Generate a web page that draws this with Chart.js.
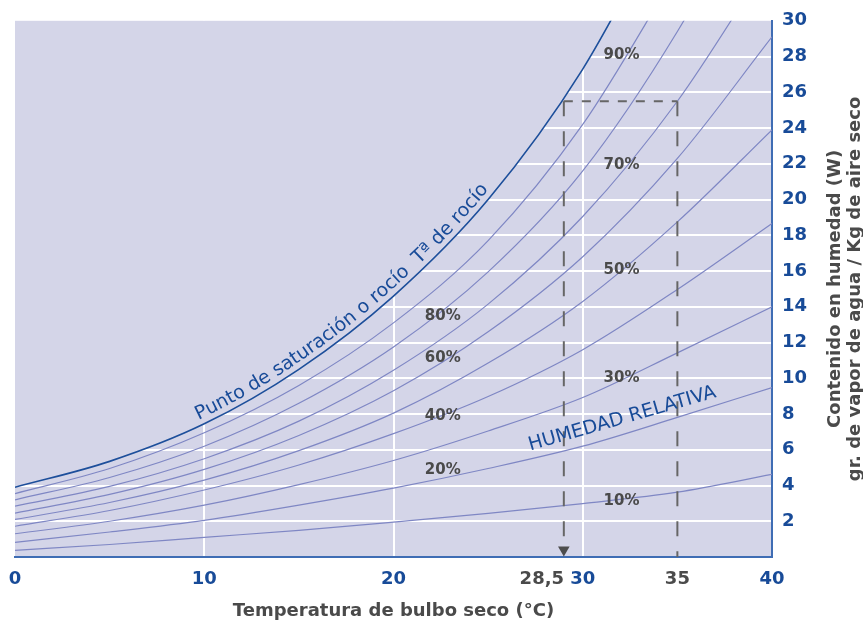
<!DOCTYPE html>
<html lang="es">
<head>
<meta charset="utf-8">
<title>Diagrama psicrométrico</title>
<script src="https://cdn.jsdelivr.net/npm/chart.js@4.4.1/dist/chart.umd.min.js"></script>
<style>
    html, body { margin: 0; padding: 0; background: #ffffff; }
    #chartBox { width: 863px; height: 621px; }
</style>
</head>
<body>
<div id="chartBox"><canvas id="psychroChart" width="863" height="621"></canvas></div>
<script>
// ============================================
// DATA (g de vapor / kg de aire seco)
// ============================================
const temperatures = [0, 5, 10, 15, 20, 25, 30, 35, 40];

const saturation = [3.9, 5.35, 7.45, 10.5, 14.6, 20.0, 27.3, 37.0];
const rh90 = [3.55, 4.95, 6.95, 9.6, 13.1, 17.7, 24.2, 32.8];
const rh80 = [3.2, 4.45, 6.2, 8.6, 11.75, 15.95, 21.6, 29.4, 39.0];
const rh70 = [2.85, 3.95, 5.5, 7.6, 10.45, 14.15, 19.05, 25.5, 33.6];
const rh60 = [2.45, 3.5, 4.9, 6.8, 9.3, 12.6, 16.8, 22.3, 29.1];
const rh50 = [2.1, 3.05, 4.3, 5.95, 8.05, 10.85, 14.3, 18.75, 23.9];
const rh40 = [1.72, 2.6, 3.75, 5.15, 6.9, 8.98, 11.6, 14.97, 18.66];
const rh30 = [1.3, 2.0, 2.9, 4.05, 5.4, 7.05, 8.92, 11.42, 14.0];
const rh20 = [0.82, 1.4, 2.05, 2.9, 3.85, 4.95, 6.2, 7.81, 9.48];
const rh10 = [0.37, 0.7, 1.1, 1.49, 1.95, 2.44, 2.99, 3.63, 4.62];

const humidityCurves = [rh90, rh80, rh70, rh60, rh50, rh40, rh30, rh20, rh10];

// example reading: 35 °C / 70 % -> dew point
const guideTemps = [29, 35];
const guideMoisture = 25.5;
const arrowMoisture = 0.4;

const xTicks = [0, 10, 20, 28.5, 30, 35, 40];
const xGridTemps = [10, 20, 30];
const xGreyTicks = [28.5, 35];
const yMax = 30;
const yStep = 2;

// ============================================
// STYLE
// ============================================
const PLOT_BG = '#d4d5e8';
const CURVE_COLOR = '#7f87c4';
const SAT_COLOR = '#1d4f9b';
const AXIS_BLUE = '#3f6db4';
const LABEL_BLUE = '#184b98';
const TEXT_GREY = '#4a4a4a';
const GUIDE_GREY = '#666666';
const FONT = '"DejaVu Sans", "Noto Sans", sans-serif';

const rhLabelSpots = [
    { text: '90%', t: 32.05, w: 28.09 },
    { text: '70%', t: 32.05, w: 21.9 },
    { text: '50%', t: 32.05, w: 16.03 },
    { text: '30%', t: 32.05, w: 10.03 },
    { text: '10%', t: 32.05, w: 3.13 },
    { text: '80%', t: 22.6, w: 13.47 },
    { text: '60%', t: 22.6, w: 11.11 },
    { text: '40%', t: 22.6, w: 7.9 },
    { text: '20%', t: 22.6, w: 4.84 }
];

function toPoints(values) {
    return values.map((v, i) => ({ x: temperatures[i], y: v }));
}

function curveDataset(values) {
    return {
        data: toPoints(values),
        borderColor: CURVE_COLOR,
        borderWidth: 1.2,
        pointRadius: 0,
        fill: false,
        cubicInterpolationMode: 'monotone',
        order: 10
    };
}

function guideDataset(points, dash, extra) {
    return Object.assign({
        data: points,
        borderColor: GUIDE_GREY,
        borderWidth: 2,
        borderDash: dash,
        pointRadius: 0,
        fill: false,
        tension: 0,
        order: 0
    }, extra || {});
}

// ============================================
// PLUGINS
// ============================================
const plotBackground = {
    id: 'plotBackground',
    beforeDraw(chart) {
        const { ctx, chartArea: a } = chart;
        ctx.save();
        ctx.fillStyle = PLOT_BG;
        ctx.fillRect(a.left, a.top, a.right - a.left, a.bottom - a.top);
        ctx.restore();
    }
};

function sampleCurve(meta) {
    const pts = meta.data;
    const out = [];
    for (let i = 0; i < pts.length - 1; i++) {
        const a = pts[i], b = pts[i + 1];
        for (let s = 0; s < 30; s++) {
            const t = s / 30, u = 1 - t;
            out.push({
                x: u * u * u * a.x + 3 * u * u * t * a.cp2x + 3 * u * t * t * b.cp1x + t * t * t * b.x,
                y: u * u * u * a.y + 3 * u * u * t * a.cp2y + 3 * u * t * t * b.cp1y + t * t * t * b.y
            });
        }
    }
    const last = pts[pts.length - 1];
    out.push({ x: last.x, y: last.y });
    return out;
}

function drawTextOnCurve(ctx, path, text, startPx, offset) {
    const lens = [0];
    for (let i = 1; i < path.length; i++) {
        lens.push(lens[i - 1] + Math.hypot(path[i].x - path[i - 1].x, path[i].y - path[i - 1].y));
    }
    let k0 = path.findIndex(p => p.x >= startPx);
    if (k0 < 0) return;
    let s = lens[k0];
    let k = k0;
    for (const ch of text) {
        const w = ctx.measureText(ch).width;
        const mid = s + w / 2;
        while (k < lens.length - 2 && lens[k + 1] < mid) k++;
        const p = path[k], q = path[k + 1];
        const f = (mid - lens[k]) / ((lens[k + 1] - lens[k]) || 1);
        const angle = Math.atan2(q.y - p.y, q.x - p.x);
        const x = p.x + (q.x - p.x) * f + Math.sin(angle) * offset;
        const y = p.y + (q.y - p.y) * f - Math.cos(angle) * offset;
        ctx.save();
        ctx.translate(x, y);
        ctx.rotate(angle);
        ctx.fillText(ch, 0, 0);
        ctx.restore();
        s += w;
    }
}

const chartNotes = {
    id: 'chartNotes',
    afterDatasetsDraw(chart) {
        const { ctx, scales: { x, y } } = chart;
        ctx.save();

        // relative humidity labels
        ctx.font = 'bold 15px ' + FONT;
        ctx.fillStyle = TEXT_GREY;
        ctx.textAlign = 'center';
        ctx.textBaseline = 'middle';
        rhLabelSpots.forEach(s => ctx.fillText(s.text, x.getPixelForValue(s.t), y.getPixelForValue(s.w)));

        // HUMEDAD RELATIVA
        ctx.save();
        ctx.font = '19px ' + FONT;
        ctx.fillStyle = LABEL_BLUE;
        ctx.translate(x.getPixelForValue(32.09), y.getPixelForValue(7.72));
        ctx.rotate(-16 * Math.PI / 180);
        ctx.fillText('HUMEDAD RELATIVA', 0, 0);
        ctx.restore();

        // text along the saturation curve
        const satMeta = chart.getDatasetMeta(0);
        ctx.font = '19px ' + FONT;
        ctx.fillStyle = LABEL_BLUE;
        ctx.textAlign = 'center';
        ctx.textBaseline = 'alphabetic';
        drawTextOnCurve(ctx, sampleCurve(satMeta), 'Punto de saturación o rocío  Tª de rocío', x.getPixelForValue(9.7), 6);

        ctx.restore();
    },
    afterDraw(chart) {
        const { ctx, chartArea: a, width } = chart;
        const cy = (a.top + a.bottom) / 2;
        ctx.save();
        ctx.font = 'bold 18px ' + FONT;
        ctx.fillStyle = TEXT_GREY;
        ctx.textAlign = 'center';
        ctx.textBaseline = 'alphabetic';
        [['Contenido en humedad (W)', width - 23], ['gr. de vapor de agua / Kg de aire seco', width - 3]].forEach(([line, bx]) => {
            ctx.save();
            ctx.translate(bx, cy);
            ctx.rotate(-Math.PI / 2);
            ctx.fillText(line, 0, 0);
            ctx.restore();
        });
        ctx.restore();
    }
};

// ============================================
// CHART
// ============================================
const datasets = [
    {
        data: toPoints(saturation),
        borderColor: SAT_COLOR,
        borderWidth: 1.6,
        backgroundColor: PLOT_BG,
        pointRadius: 0,
        fill: 'end',
        cubicInterpolationMode: 'monotone',
        order: 5
    },
    ...humidityCurves.map(curveDataset),
    guideDataset([{ x: guideTemps[0], y: guideMoisture }, { x: guideTemps[1], y: guideMoisture }], [9, 9]),
    guideDataset([{ x: guideTemps[0], y: guideMoisture }, { x: guideTemps[0], y: arrowMoisture }], [15, 15], {
        pointRadius: [0, 6.7],
        pointStyle: 'triangle',
        pointRotation: 180,
        pointBackgroundColor: '#4d4d4d',
        pointBorderWidth: 0
    }),
    guideDataset([{ x: guideTemps[1], y: guideMoisture }, { x: guideTemps[1], y: 0 }], [15, 15])
];

new Chart(document.getElementById('psychroChart'), {
    type: 'line',
    data: { datasets },
    options: {
        responsive: false,
        animation: false,
        devicePixelRatio: 1,
        layout: { padding: { left: 15, top: 18, right: 0, bottom: 0 } },
        plugins: { legend: { display: false }, tooltip: { enabled: false } },
        scales: {
            x: {
                type: 'linear',
                min: 0,
                max: 40,
                afterBuildTicks: scale => { scale.ticks = xTicks.map(v => ({ value: v })); },
                afterFit: scale => { scale.height = 64; },
                grid: {
                    color: ctx => (ctx.tick && xGridTemps.includes(ctx.tick.value)) ? '#ffffff' : 'rgba(0,0,0,0)',
                    lineWidth: 2,
                    drawTicks: false
                },
                border: { color: AXIS_BLUE, width: 2 },
                ticks: {
                    autoSkip: false,
                    maxRotation: 0,
                    padding: 3,
                    font: { family: FONT, size: 18, weight: 'bold', lineHeight: 2.2 },
                    color: ctx => (ctx.tick && xGreyTicks.includes(ctx.tick.value)) ? TEXT_GREY : LABEL_BLUE,
                    callback: v => v === 28.5 ? '28,5    ' : String(v)
                },
                title: {
                    display: true,
                    text: 'Temperatura de bulbo seco (°C)',
                    color: TEXT_GREY,
                    font: { family: FONT, size: 18, weight: 'bold', lineHeight: 1.1 },
                    padding: { top: 0, bottom: 0 }
                }
            },
            y: {
                type: 'linear',
                position: 'right',
                min: 0,
                max: yMax,
                afterFit: scale => { scale.width = 91; },
                grid: {
                    color: ctx => (ctx.tick && ctx.tick.value > 0 && ctx.tick.value < yMax) ? '#ffffff' : 'rgba(0,0,0,0)',
                    lineWidth: 2,
                    drawTicks: false
                },
                border: { color: AXIS_BLUE, width: 2 },
                ticks: {
                    stepSize: yStep,
                    padding: 10,
                    font: { family: FONT, size: 18, weight: 'bold' },
                    color: LABEL_BLUE,
                    callback: v => v === 0 ? '' : String(v)
                }
            }
        }
    },
    plugins: [plotBackground, chartNotes]
});
</script>
</body>
</html>
